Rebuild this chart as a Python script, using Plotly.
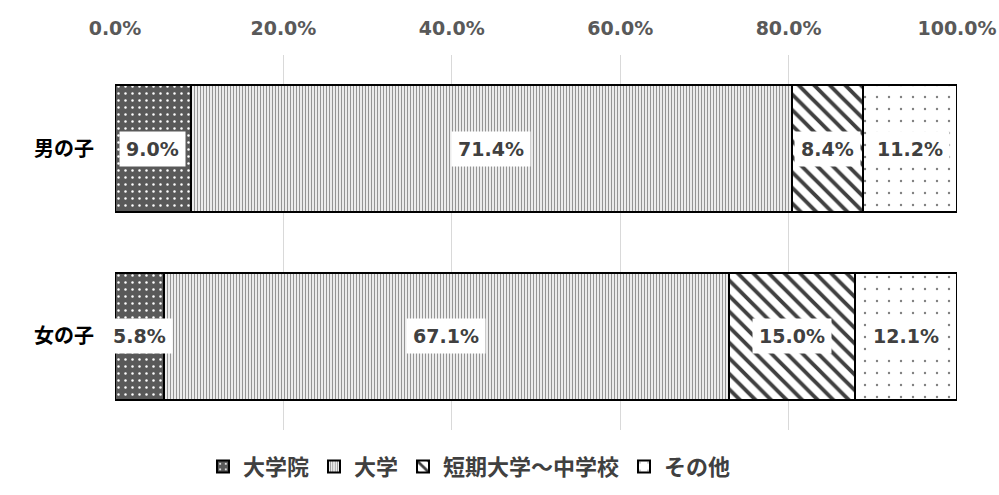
import plotly.graph_objects as go

# Share of desired education level by child's gender
categories = ["男の子", "女の子"]
series_names = ["大学院", "大学", "短期大学～中学校", "その他"]
series_values = [
    [9.0, 5.8],    # 大学院
    [71.4, 67.1],  # 大学
    [8.4, 15.0],   # 短期大学～中学校
    [11.2, 12.1],  # その他
]
tick_values = [0, 20, 40, 60, 80, 100]
tick_labels = ["0.0%", "20.0%", "40.0%", "60.0%", "80.0%", "100.0%"]

patterns = [
    dict(shape=".", bgcolor="#595959", fgcolor="#ffffff", size=7, solidity=0.1),
    dict(shape="|", bgcolor="#ffffff", fgcolor="#959595", size=3, solidity=0.45),
    dict(shape="\\", bgcolor="#ffffff", fgcolor="#404040", size=11, solidity=0.35),
    dict(shape=".", bgcolor="#ffffff", fgcolor="#808080", size=12, solidity=0.03),
]

text_color = "#404040"
cjk_font = "Noto Sans CJK JP"
num_font = "DejaVu Sans"

fig = go.Figure()
for name, vals, pat in zip(series_names, series_values, patterns):
    fig.add_trace(go.Bar(
        name=name,
        y=categories,
        x=vals,
        orientation="h",
        marker=dict(color=pat["bgcolor"],
                    pattern=dict(**pat, fillmode="overlay", fgopacity=1),
                    line=dict(color="#000000", width=2)),
        hoverinfo="skip",
    ))

# Value labels with white boxes, centred in each segment
for ci, cat in enumerate(categories):
    left = 0.0
    for vals in series_values:
        v = vals[ci]
        fig.add_annotation(
            x=left + v / 2, y=cat, xref="x", yref="y",
            text=f"<b>{v:.1f}%</b>", showarrow=False,
            font=dict(family=num_font, size=19, color=text_color),
            bgcolor="#ffffff", borderpad=6,
        )
        left += v

fig.update_layout(
    width=999, height=495,
    margin=dict(l=115, r=42, t=55, b=65),
    barmode="stack",
    bargap=0.325,
    plot_bgcolor="#ffffff",
    paper_bgcolor="#ffffff",
    showlegend=True,
    legend=dict(
        orientation="h", traceorder="normal",
        xref="paper", x=0.421, xanchor="center",
        yref="container", y=0.057, yanchor="middle",
        font=dict(family=cjk_font, size=22, color=text_color, weight="bold"),
        itemwidth=30,
    ),
    xaxis=dict(
        side="top", range=[0, 100], tickvals=tick_values, ticktext=tick_labels,
        showgrid=True, gridcolor="#d9d9d9", gridwidth=1, zeroline=False,
        showline=False, ticks="", ticklabelstandoff=15, automargin=False,
        tickfont=dict(family=num_font, size=19, color="#595959", weight="bold"),
    ),
    yaxis=dict(
        autorange="reversed", showgrid=False, showline=False, ticks="",
        ticklabelstandoff=20, automargin=False,
        tickfont=dict(family=cjk_font, size=20, color="#000000", weight="bold"),
    ),
)

fig.write_html("out.html")
